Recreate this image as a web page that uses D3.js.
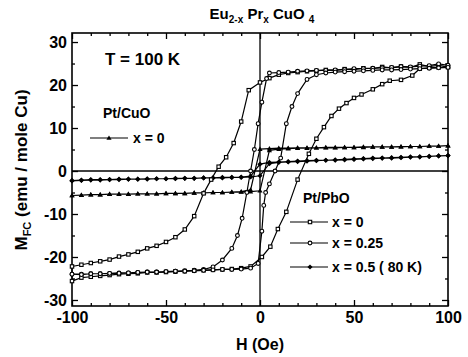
<!DOCTYPE html>
<html>
<head>
<meta charset="utf-8">
<script src="https://cdn.jsdelivr.net/npm/d3@7"></script>
<style>
  body { margin: 0; background: #fff; }
  text { font-family: "Liberation Sans", Arial, sans-serif; font-weight: bold; fill: #000; }
</style>
</head>
<body>
<svg id="chart" width="468" height="357"></svg>
<script>
// field steps used by the two small loops (Oe)
var hSteps = [100,95,90,85,80,75,70,65,60,55,50,45,40,35,30,25,20,15,10,5,0,
              -5,-10,-15,-20,-25,-30,-35,-40,-45,-50,-55,-60,-65,-70,-75,-80,-85,-90,-95,-100];

// Pt/CuO x = 0  (M read at hSteps going down, then at reversed hSteps going up)
var cuoDown = [5.9,5.8,5.8,5.7,5.7,5.7,5.6,5.6,5.6,5.6,5.5,5.5,5.5,5.5,5.4,5.4,5.4,5.3,5.3,5.2,5.1,
               -4.4,-4.8,-4.9,-5.0,-5.0,-5.1,-5.1,-5.2,-5.2,-5.2,-5.3,-5.3,-5.3,-5.4,-5.4,-5.4,-5.5,-5.5,-5.6,-5.7];
var cuoUp = [-5.7,-5.6,-5.5,-5.5,-5.4,-5.4,-5.4,-5.3,-5.3,-5.3,-5.2,-5.2,-5.2,-5.1,-5.1,-5.0,-5.0,-4.9,-4.9,-4.8,-4.6,
             4.8,5.1,5.2,5.3,5.3,5.4,5.4,5.4,5.5,5.5,5.5,5.6,5.6,5.6,5.6,5.7,5.7,5.8,5.8,5.9];

// Pt/PbO x = 0.5 (80 K)
var pbo05Down = [3.6,3.5,3.4,3.3,3.3,3.2,3.1,3.0,3.0,2.9,2.8,2.7,2.6,2.5,2.5,2.4,2.3,2.2,2.1,2.0,1.6,
                 -1.2,-1.4,-1.5,-1.5,-1.6,-1.6,-1.7,-1.7,-1.7,-1.8,-1.8,-1.8,-1.9,-1.9,-1.9,-2.0,-2.0,-2.0,-2.1,-2.2];
var pbo05Up = [-2.3,-2.2,-2.1,-2.1,-2.0,-2.0,-1.9,-1.9,-1.9,-1.8,-1.8,-1.8,-1.7,-1.7,-1.6,-1.6,-1.6,-1.5,-1.5,-1.4,-1.1,
               1.7,2.0,2.1,2.2,2.3,2.4,2.5,2.5,2.6,2.7,2.8,2.9,3.0,3.0,3.1,3.2,3.3,3.4,3.5,3.6];

// Pt/PbO x = 0, [H, M] pairs
var pbo0Down = [[100,24.2],[95,24.6],[90,24.3],[85,24.8],[80,24.1],[75,24.3],[70,24.0],[65,24.2],[60,23.8],[55,23.9],
  [50,23.6],[45,23.7],[40,23.4],[35,23.5],[30,23.3],[25,23.2],[20,23.0],[15,22.8],[10,22.4],[5,21.6],[0,20.6],
  [-6,18.8],[-10,11.5],[-14,6.5],[-18,3.2],[-22,1.0],[-26,-2.0],[-30,-5.2],[-35,-10.5],[-40,-13.6],[-45,-15.4],
  [-50,-16.5],[-55,-17.4],[-60,-18.0],[-65,-18.8],[-70,-19.4],[-75,-19.9],[-80,-20.6],[-85,-21.0],[-90,-21.4],
  [-95,-21.8],[-100,-22.2]];
var pbo0Up = [[-100,-25.6],[-95,-24.8],[-90,-24.6],[-85,-24.4],[-80,-24.2],[-75,-24.0],[-70,-23.9],[-65,-23.8],
  [-60,-23.6],[-55,-23.6],[-50,-23.5],[-45,-23.4],[-40,-23.3],[-35,-23.2],[-30,-23.1],[-25,-23.0],[-20,-22.9],
  [-15,-22.8],[-10,-22.6],[-5,-22.2],[1,-20.0],[5.5,-17.6],[9.5,-13.5],[14,-9.5],[20,-2.0],[26,4.0],[30,7.5],
  [34,10.2],[38,12.8],[42,14.5],[46,15.8],[50,17.0],[54,17.8],[60,19.0],[65,20.2],[69,21.0],[75,21.2],[81,22.2],
  [85,23.8],[90,24.0],[95,24.1],[100,24.2]];

// Pt/PbO x = 0.25, [H, M] pairs
var pbo025Down = [[100,24.6],[95,24.9],[90,24.5],[85,24.4],[80,24.2],[75,24.3],[70,24.1],[65,24.0],[60,23.9],
  [55,23.8],[50,23.8],[45,23.6],[40,23.5],[35,23.4],[30,23.4],[25,23.3],[20,23.2],[15,23.0],[10,22.9],[5,22.8],
  [3.5,21.5],[1,16],[-1,11],[-3,5],[-5,0],[-7,-5],[-9.5,-11],[-12,-15],[-15,-18],[-20,-20.7],[-25,-22.3],
  [-30,-22.9],[-35,-23.1],[-40,-23.2],[-45,-23.3],[-50,-23.4],[-55,-23.5],[-60,-23.5],[-65,-23.6],[-70,-23.7],
  [-75,-23.7],[-80,-23.8],[-85,-23.9],[-90,-23.9],[-95,-24.0],[-100,-24.0]];
var pbo025Up = [[-100,-24.0],[-95,-24.1],[-90,-23.9],[-85,-23.9],[-80,-23.8],[-75,-23.8],[-70,-23.7],[-65,-23.6],
  [-60,-23.5],[-55,-23.5],[-50,-23.4],[-45,-23.3],[-40,-23.3],[-35,-23.2],[-30,-23.1],[-25,-23.0],[-20,-22.9],
  [-15,-22.9],[-10,-22.8],[-5,-22.6],[-1,-21.5],[1,-14],[2,-8],[3,-5],[5,-3],[8,0],[11,3],[14,11],[17,15],
  [20,18],[25,21.3],[30,22.4],[35,22.8],[40,23.0],[45,23.1],[50,23.2],[55,23.3],[60,23.4],[65,23.5],[70,23.5],
  [75,23.6],[80,23.7],[85,23.8],[90,23.9],[95,24.0],[100,24.1]];

// ticks
var xTicks = [-100,-50,0,50,100];
var xTickLabels = ["-100","-50","0","50","100"];
var xMinor = [-90,-80,-70,-60,-40,-30,-20,-10,10,20,30,40,60,70,80,90];
var yTicks = [-30,-20,-10,0,10,20,30];
var yTickLabels = ["-30","-20","-10","0","10","20","30"];
var yMinor = [-25,-15,-5,5,15,25];

var svg = d3.select("#chart");
var x = d3.scaleLinear().domain([-100,100]).range([72,448]);
var y = d3.scaleLinear().domain([-31.4,32.1]).range([306,33]);

// zip the step arrays into points
function zipSteps(hs, ms){
  return hs.map(function(h,i){ return [h, ms[i]]; });
}
var hUp = hSteps.slice().reverse();

var series = [
  {name:"cuo", mark:"tri", pts: zipSteps(hSteps, cuoDown).concat(zipSteps(hUp, cuoUp))},
  {name:"pbo05", mark:"dia", pts: zipSteps(hSteps, pbo05Down).concat(zipSteps(hUp, pbo05Up))},
  {name:"pbo0", mark:"sq", pts: pbo0Down.concat(pbo0Up)},
  {name:"pbo025", mark:"circ", pts: pbo025Down.concat(pbo025Up)}
];

// axes (ticks point inward)
function styleAxis(g){
  g.select(".domain").remove();
  g.selectAll(".tick line").attr("stroke","#000").attr("stroke-width",1.3);
  g.selectAll(".tick text").style("font-size","16px").style("font-family","Liberation Sans, Arial, sans-serif").style("font-weight","bold");
}
svg.append("g").attr("transform","translate(0,306)")
  .call(d3.axisBottom(x).tickValues(xTicks).tickSize(-6).tickPadding(6).tickFormat(function(d,i){ return xTickLabels[i]; }))
  .call(styleAxis);
svg.append("g").attr("transform","translate(0,306)")
  .call(d3.axisBottom(x).tickValues(xMinor).tickSize(-3).tickFormat("")).call(styleAxis);
svg.append("g").attr("transform","translate(0,33)")
  .call(d3.axisTop(x).tickValues(xTicks).tickSize(-6).tickFormat("")).call(styleAxis);
svg.append("g").attr("transform","translate(0,33)")
  .call(d3.axisTop(x).tickValues(xMinor).tickSize(-3).tickFormat("")).call(styleAxis);
svg.append("g").attr("transform","translate(72,0)")
  .call(d3.axisLeft(y).tickValues(yTicks).tickSize(-6).tickPadding(5).tickFormat(function(d,i){ return yTickLabels[i]; }))
  .call(styleAxis);
svg.append("g").attr("transform","translate(72,0)")
  .call(d3.axisLeft(y).tickValues(yMinor).tickSize(-3).tickFormat("")).call(styleAxis);
svg.append("g").attr("transform","translate(448,0)")
  .call(d3.axisRight(y).tickValues(yTicks).tickSize(-6).tickFormat("")).call(styleAxis);
svg.append("g").attr("transform","translate(448,0)")
  .call(d3.axisRight(y).tickValues(yMinor).tickSize(-3).tickFormat("")).call(styleAxis);

// frame + zero lines
svg.append("rect").attr("x",x(-100)).attr("y",y(32.1)).attr("width",x(100)-x(-100)).attr("height",y(-31.4)-y(32.1))
  .attr("fill","none").attr("stroke","#000").attr("stroke-width",1.6);
svg.append("line").attr("x1",x(0)).attr("x2",x(0)).attr("y1",y(32.1)).attr("y2",y(-31.4)).attr("stroke","#000").attr("stroke-width",1.3);
svg.append("line").attr("x1",x(-100)).attr("x2",x(100)).attr("y1",y(0)).attr("y2",y(0)).attr("stroke","#000").attr("stroke-width",1.3);

var line = d3.line().x(function(d){ return x(d[0]); }).y(function(d){ return y(d[1]); });

function drawMark(g, type, cx, cy){
  if(type=="sq"){
    g.append("rect").attr("x",cx-1.7).attr("y",cy-1.7).attr("width",3.4).attr("height",3.4)
      .attr("fill","#fff").attr("stroke","#000").attr("stroke-width",1.1);
  } else if(type=="circ"){
    g.append("circle").attr("cx",cx).attr("cy",cy).attr("r",1.9)
      .attr("fill","#fff").attr("stroke","#000").attr("stroke-width",1.1);
  } else if(type=="dia"){
    g.append("path").attr("d","M"+cx+","+(cy-2.6)+"L"+(cx+2.6)+","+cy+"L"+cx+","+(cy+2.6)+"L"+(cx-2.6)+","+cy+"Z")
      .attr("fill","#000");
  } else {
    g.append("path").attr("d","M"+cx+","+(cy-2.6)+"L"+(cx+2.6)+","+(cy+1.8)+"L"+(cx-2.6)+","+(cy+1.8)+"Z")
      .attr("fill","#000");
  }
}

series.forEach(function(s){
  var g = svg.append("g");
  g.append("path").datum(s.pts).attr("d",line).attr("fill","none").attr("stroke","#000").attr("stroke-width",1.2);
  s.pts.forEach(function(p){ drawMark(g, s.mark, x(p[0]), y(p[1])); });
});

// title
var title = svg.append("text").attr("x",262).attr("y",19).attr("text-anchor","middle").style("font-size","15px");
title.append("tspan").text("Eu");
title.append("tspan").attr("dy",4).style("font-size","10px").text("2-x");
title.append("tspan").attr("dy",-4).text(" Pr");
title.append("tspan").attr("dy",4).style("font-size","10px").text("x");
title.append("tspan").attr("dy",-4).text(" CuO ");
title.append("tspan").attr("dy",4).style("font-size","10px").text("4");

// axis labels
svg.append("text").attr("x",260).attr("y",350).attr("text-anchor","middle").style("font-size","16px").text("H (Oe)");
var yl = svg.append("text").attr("transform","translate(27,170) rotate(-90)").attr("text-anchor","middle").style("font-size","17px");
yl.append("tspan").text("M");
yl.append("tspan").attr("dy",4).style("font-size","11px").text("FC");
yl.append("tspan").attr("dy",-4).text(" (emu / mole Cu)");

// annotations / legends
svg.append("text").attr("x",105).attr("y",65).style("font-size","17px").text("T = 100 K");
svg.append("text").attr("x",103).attr("y",118).style("font-size","14px").text("Pt/CuO");
var legCu = svg.append("g");
legCu.append("line").attr("x1",90).attr("x2",128).attr("y1",138).attr("y2",138).attr("stroke","#000").attr("stroke-width",1.2);
drawMark(legCu, "tri", 109, 138);
legCu.append("text").attr("x",133).attr("y",143).style("font-size","14px").text("x = 0");

svg.append("text").attr("x",303).attr("y",203).style("font-size","14px").text("Pt/PbO");
var legRows = [{mark:"sq", label:"x = 0", yy:222},{mark:"circ", label:"x = 0.25", yy:243},{mark:"dia", label:"x = 0.5 ( 80 K)", yy:267}];
legRows.forEach(function(r){
  var g = svg.append("g");
  g.append("line").attr("x1",290).attr("x2",328).attr("y1",r.yy).attr("y2",r.yy).attr("stroke","#000").attr("stroke-width",1.2);
  drawMark(g, r.mark, 310, r.yy);
  g.append("text").attr("x",332).attr("y",r.yy+5).style("font-size","14px").text(r.label);
});
</script>
</body>
</html>
